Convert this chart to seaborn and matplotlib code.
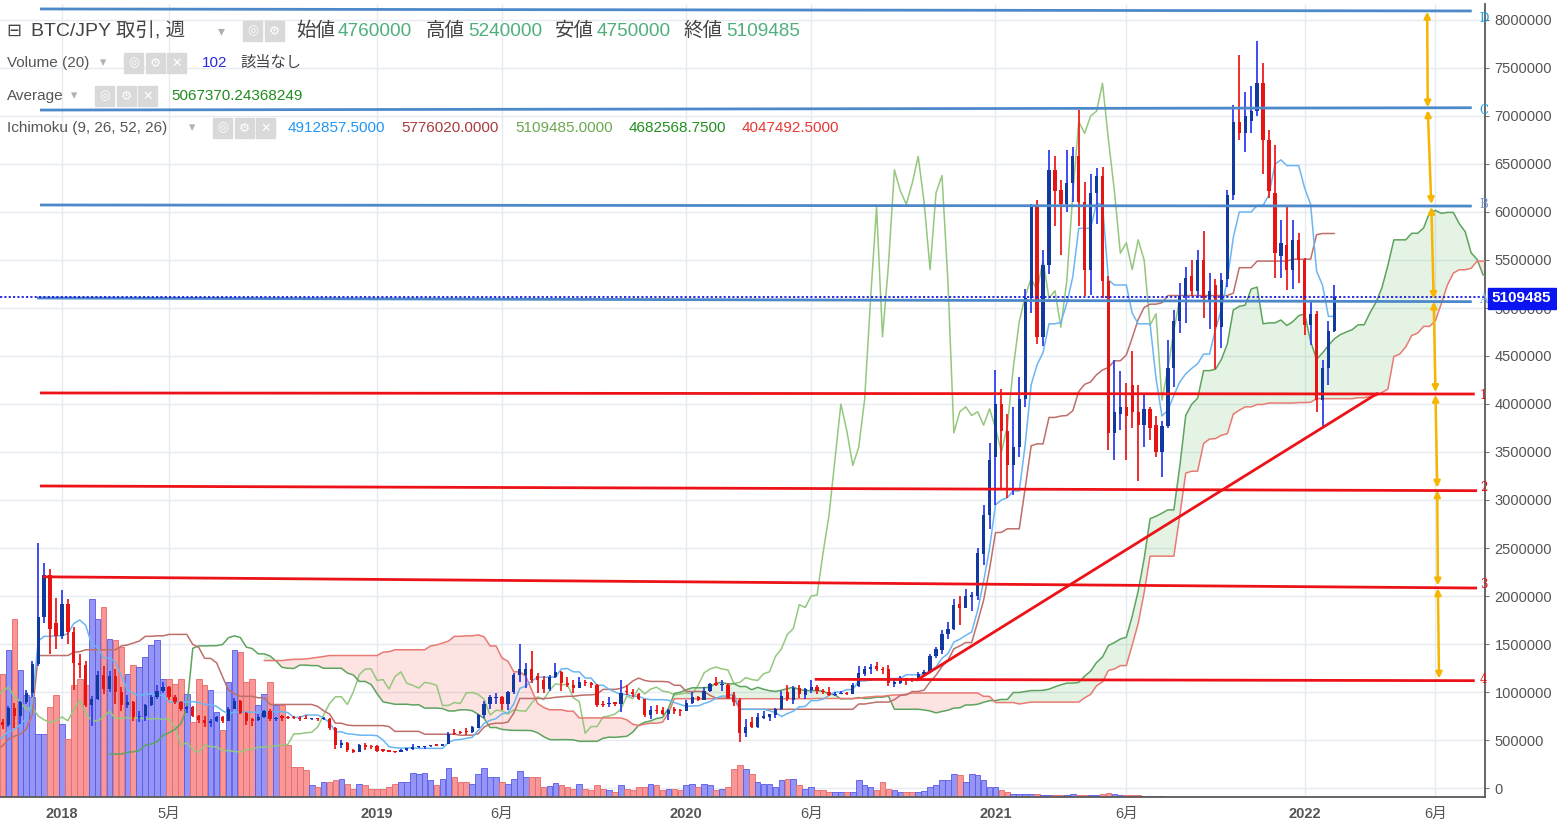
import numpy as np
import pandas as pd
import matplotlib
matplotlib.use("Agg")
import matplotlib.pyplot as plt
import seaborn as sns
from matplotlib.patches import Rectangle

sns.set_style("white")
plt.rcParams['font.family'] = ['Liberation Sans', 'Noto Sans CJK JP', 'DejaVu Sans']

# ---------------- data (weekly BTC/JPY, unit = 10,000 JPY) ----------------
UNIT = 1e4
# week index 0 = 2017-10-23 ... 224 = 2022-02-07
opens = [
 69,66,83,75,90,99,129,178,222,172,
 158,192,162,130,128,86,93,118,103,117,
 100,86,90,74,75,86,95,101,105,95,
 90,82,84,75,71,68,70,74,70,82,
 91,78,72,71,74,80,72,75,74,74,
 73,73,72,72.5,71.5,72,63,45,47,40,
 37,45,44,44,39.8,39,38,37.5,40,40.2,
 42.5,42.6,43.3,44.5,44.2,45.5,57,58,59,58,
 63,76,88,94,95,87,100,118,118,124,
 117,113,103,116,121,109,107,104,110,109,
 107,87,87,89,88,100,99.5,97.5,92.5,76,
 81.5,81,77,82,80.5,80,88.5,95,92,101.5,
 109,107,107,97,92,57,69,64,73,74,
 76,82,100,92,104,97,102,105,101.5,100,
 97,98,99,98,106,119,124,127,124,124,
 108,109,114,113,112,119,121,137,144,160,
 166,192,188,199,200,244,284,345,400,372,
 336,355,405,510,605,470,545,644,623,608,
 630,658,610,540,620,638,528,370,390,397,
 420,392,378,395,378,350,377,438,486,512,
 533,518,550,508,524,480,530,618,694,682,
 695,705,734,675,620,554,566,540,571,550,
 482,494,404,437,476]
highs = [
 72,85,89,91,102,132,255,234,228,198,
 206,197,168,140,132,96,122,127,122,124,
 105,97,91,80,88,97,107,110,106,97,
 91,85,85,76,75,72,75,75,84,94,
 92,79,73,77,81,82,74,76,75,75,
 75,76,73,73,74,73,64,50,48,41,
 46,47,45,45,40.5,39.5,38.5,40.5,40.8,46,
 43.5,43.8,44.8,45.3,46,58,61,59.5,62.5,64.5,
 77,91,97,99,95.5,101,120,150,130,143,
 120,117,118,130,122,116,112,116,112,110,
 108,91,95,90,112,107,103,99,93,85,
 86,84,82,84,82,92,100,96,105,109,
 116,113,109,100,94,72,74,78,80,77.5,
 83,101,107,106,107,104,112,107,103,105,
 100,101,99.5,109,127,127,129,131,126,128,
 112,117,115,115,121,123,140,147,165,173,
 197,200,207,204,250,295,359,435,416,390,
 397,428,520,608,612,560,665,658,633,665,
 668,706,631,640,646,647,533,446,434,422,
 455,420,410,397,387,382,467,498,526,543,
 550,560,580,536,530,536,623,711,764,725,
 731,777.7,755,685,670,592,605,592,578,552,
 507,497,446,486,524]
lows = [
 61,64,62,67,88,95,127,172,140,145,
 155,150,102,115,84,65,92,98,100,88,
 80,83,70,69,70,85,93,99,92,87,
 80,78,74,68,64,64,69,68,70,82,
 77,66,65,70,73,70,70,70,72,72,
 70,72,71,70,71,60,41,42,37,36,
 37,40,41,38,38,37.5,36.5,37,39,40,
 41.5,41,42.8,43.8,44,45.5,55.5,56.5,55.5,57.5,
 62.5,73,82.5,88,81,81,98,110,104,109,
 99,99,101,115,101,105,99,104,106,104,
 84,84,84,85,79,97,95,92,74,72,
 77,76,71,77.5,75.5,80,88,90.5,91.5,100,
 106,101,93,85,48,53,62,63,72,70,
 73,81,91,88,94,93,99,98,98,96,
 96,97.5,97,97.5,105,117,119,122,119,106,
 105,108,107,110,111,118,120,135,140,155,
 165,170,187,184,196,232,270,295,310,302,
 305,345,397,495,462,460,535,585,555,600,
 610,585,512,514,588,510,352,342,373,342,
 375,320,355,362,345,324,375,418,474,484,
 512,510,490,478,436,458,522,612,675,662,
 682,700,640,615,531,531,519,520,526,472,
 461,392,377.5,420,475]
closes = [
 66,83,75,90,99,129,178,222,166,158,
 192,162,130,128,86,93,118,103,117,100,
 86,90,74,75,86,95,101,105,95,90,
 82,84,75,71,68,70,74,70,82,91,
 78,70,70,74,80,72,73,73,73,73,
 72,72,72.5,71.5,72,63,45,47,40,37,
 45,43,43,39,39,38,37.5,40,40.2,42.5,
 42.6,43.3,44.2,44.2,45.5,56.5,56.5,57.5,58,63.5,
 76,88,95,95,87,100,118,124,124,112,
 113,103,116,121,109,107,104,110,109,107,
 86,86,89,88,99,99.5,97.5,92.5,76,81,
 80.5,77,81.5,80.5,80,88.5,95,92,101.5,108.5,
 107.5,108,94,90,57,64,64,74,75,77,
 82,96,93,104,98,103,105,101,100,97,
 98,99,98,107,120,124,126,124,123,109,
 110,115,113,112,119,121,137,145,160,166,
 191,188,200,201,245,284,342,400,372,336,
 355,405,510,605,470,545,644,622,608,630,
 658,610,540,620,638,528,370,392,397,388,
 392,378,395,375,350,377,438,486,512,531,
 518,550,510,518,480,529,618,694,682,700,
 705,734,675,622,557,568,540,571,550,482,
 494,404,437,476,510.9485]
# weekly volume (relative units)
volume = [
 123,147,178,127,102,100,63,63,90,102,
 73,58,112,118,112,198,178,190,158,157,
 150,123,132,130,140,152,157,118,118,113,
 118,103,75,118,112,107,85,67,115,147,
 145,115,118,92,103,115,92,92,52,30,
 30,27,12,10,15,15,17,18,13,8,
 13,12,8,8,8,10,13,15,15,24,
 23,24,17,12,18,29,20,15,15,13,
 23,29,20,20,15,13,18,26,20,20,
 20,10,11,14,12,10,8,13,8,7,
 12,8,7,5,12,8,7,10,10,13,
 12,7,8,8,7,12,13,10,13,12,
 7,8,10,28,32,28,23,15,13,13,
 10,17,18,18,12,8,10,7,7,5,
 5,5,5,5,17,12,10,7,15,8,
 7,5,5,5,5,6,10,12,17,17,
 23,22,15,23,22,17,10,10,7,5,
 3,3,3,3,3,2,2,2,2,2,
 3,2,2,2,2,3,4,3,2,2,
 2,2,1,1,1,1,0,0,0,0,
 0,0,0,0,0,0,0,0,0,0,
 0,0,0,0,0,0,0,0,0,0,
 0,0,0,0,0]
# weekly high / low of the 33 weeks before the visible range (Mar-Oct 2017),
# needed for the Ichimoku spans shown at the left of the chart
hist_high = [14.5,14,12,12.5,13.5,14,14,16,18.5,20,24,31,30,33,33,31,
             29,30,29,32,31,36,44,49,50,55,55,50,45,49,52,66,68]
hist_low = [11,11.5,10.5,10.5,12,13,13.2,13.8,15.5,17,19,22,25,28,24,27,
            26,28,21,21,28,29,36,44,43,48,45,33,41,43,47,51,61]

x_tick_weeks = [10, 28, 63, 84, 115, 136, 167, 189, 219, 241]
x_tick_labels = ["2018", "5月", "2019", "6月", "2020", "6月", "2021", "6月", "2022", "6月"]

# drawn levels (week index, price)
blue_levels = {"D": [(6.3, 8115000), (247.1, 8094000)],
               "C": [(6.3, 7062000), (247.1, 7086000)],
               "B": [(6.3, 6073000), (247.1, 6062000)],
               "A": [(5.8, 5104000), (247.1, 5066000)]}
red_levels = {"1": [(6.3, 4115000), (247.6, 4104000)],
              "2": [(6.3, 3146000), (248.0, 3097000)],
              "3": [(6.8, 2200000), (248.0, 2083000)],
              "4": [(136.6, 1132000), (247.6, 1118000)]}
trend_line = [(153.8, 1125000), (231.2, 4109000)]
arrow_weeks = [239.6, 239.7, 240.3, 240.7, 241.0, 241.3, 241.4, 241.6]
arrow_levels = [8100000, 7075000, 6068000, 5080000, 4110000, 3115000, 2095000, 1125000]
label_pos = {"D": 8020000, "C": 7060000, "B": 6080000, "A": 5090000,
             "1": 4090000, "2": 3135000, "3": 2115000, "4": 1135000}
label_col = {"D": "#1aa0e0", "C": "#22a8e0", "B": "#7896d4", "A": "#86aee6",
             "1": "#e01010", "2": "#e01010", "3": "#e01010", "4": "#e01010"}
last_close = 5109485

# ---------------- figure ----------------
FW, FH = 1557, 824
fig = plt.figure(figsize=(FW / 100, FH / 100), dpi=100)
ax = fig.add_axes([0, 27 / FH, 1485 / FW, 793 / FH])

W_PX, X0_PX, PPM = 5.946, 2.5, 96.0
xlim = (-X0_PX / W_PX, (1485 - X0_PX) / W_PX)
ylim = (-(797 - 788) / PPM * 1e6, (788 - 4) / PPM * 1e6)
ax.set_xlim(*xlim)
ax.set_ylim(*ylim)

weeks = np.arange(len(opens))
O = np.array(opens) * UNIT
Hh = np.array(highs) * UNIT
Ll = np.array(lows) * UNIT
C = np.array(closes) * UNIT
up = C >= O

# grid
for v in np.arange(0, 8000001, 500000):
    ax.axhline(v, color="#e6ebf1", lw=1.0, zorder=0)
for k in x_tick_weeks:
    ax.axvline(k, color="#e6ebf1", lw=1.0, zorder=0)

# volume bars
vol_scale = 1e6 / PPM
vol = np.array(volume, dtype=float)
ax.bar(weeks, vol * vol_scale, bottom=ylim[0], width=0.95,
       color=np.where(up, "#8a8af6", "#f78c8c"),
       edgecolor=np.where(up, "#5c5ce8", "#e86c6c"), linewidth=0.7, alpha=0.9, zorder=1)

# Ichimoku
ix = np.arange(-len(hist_high), len(opens))
Hs = pd.Series(np.array(hist_high + highs) * UNIT, index=ix)
Ls = pd.Series(np.array(hist_low + lows) * UNIT, index=ix)
tenkan = (Hs.rolling(9).max() + Ls.rolling(9).min()) / 2
kijun = (Hs.rolling(26).max() + Ls.rolling(26).min()) / 2
spanA = ((tenkan + kijun) / 2)
spanA.index = ix + 26
spanB = (Hs.rolling(52).max() + Ls.rolling(52).min()) / 2
spanB.index = ix + 26
chikou = pd.Series(C, index=weeks - 26)

cloud = pd.DataFrame({"a": spanA, "b": spanB}).dropna()
ax.fill_between(cloud.index, cloud["a"], cloud["b"], where=cloud["a"] >= cloud["b"],
                interpolate=True, color="#4caf50", alpha=0.15, lw=0, zorder=2)
ax.fill_between(cloud.index, cloud["a"], cloud["b"], where=cloud["a"] < cloud["b"],
                interpolate=True, color="#f44336", alpha=0.15, lw=0, zorder=2)

def draw_line(s, color, lw=1.1):
    s = s.dropna()
    s = s[(s.index >= -1)]
    d = pd.DataFrame({"week": s.index.values, "price": s.values})
    sns.lineplot(data=d, x="week", y="price", ax=ax, color=color, lw=lw,
                 legend=False, zorder=3)

draw_line(chikou, "#95c77e")
draw_line(spanA, "#5ea35e")
draw_line(spanB, "#e87a72")
draw_line(kijun, "#bd6f6a")
draw_line(tenkan, "#6bb6f2")

# candles
ax.vlines(weeks, Ll, Hh, colors=np.where(up, "#2f3ff0", "#f01c1c"), lw=1.3, zorder=4)
body_h = np.maximum(np.abs(C - O), 12000)
ax.bar(weeks, body_h, bottom=np.minimum(O, C), width=0.55,
       color=np.where(up, "#12399e", "#e81414"), linewidth=0, zorder=5)

# levels
for key, pts in blue_levels.items():
    (x1, y1), (x2, y2) = pts
    ax.plot([x1, x2], [y1, y2], color="#4d88c8", lw=2.0, zorder=6, solid_capstyle="butt")
for key, pts in red_levels.items():
    (x1, y1), (x2, y2) = pts
    ax.plot([x1, x2], [y1, y2], color="#ec1218", lw=2.0, zorder=6, solid_capstyle="butt")
(x1, y1), (x2, y2) = trend_line
ax.plot([x1, x2], [y1, y2], color="#ec1218", lw=2.0, zorder=6)
ax.axhline(last_close, color="#1a1ae6", lw=1.3, ls=(0, (1.2, 1.2)), zorder=6)

for i in range(len(arrow_levels) - 1):
    ax.annotate("", xy=(arrow_weeks[i + 1], arrow_levels[i + 1]),
                xytext=(arrow_weeks[i], arrow_levels[i]),
                arrowprops=dict(arrowstyle="<|-|>", color="#f7b500", lw=1.8,
                                mutation_scale=9, shrinkA=1, shrinkB=1), zorder=7)

for key, p in label_pos.items():
    ax.text(249.1, p, key, color=label_col[key], fontsize=8.5, ha="center",
            va="center", clip_on=False, zorder=8, family=["DejaVu Serif"])

# axes styling
for s in ["left", "top"]:
    ax.spines[s].set_visible(False)
for s in ["right", "bottom"]:
    ax.spines[s].set_color("#5a5a5a")
    ax.spines[s].set_linewidth(1.3)
ax.yaxis.tick_right()
ax.set_yticks(np.arange(0, 8000001, 500000))
ax.set_yticklabels([str(int(v)) for v in np.arange(0, 8000001, 500000)])
ax.tick_params(axis="y", length=3, color="#777777", labelsize=10.5, labelcolor="#555555", pad=4)
ax.set_xticks(x_tick_weeks)
ax.set_xticklabels(x_tick_labels)
ax.tick_params(axis="x", length=3, color="#777777", labelsize=10.5, labelcolor="#555555", pad=4)
for lab in ax.get_xticklabels():
    if lab.get_text().isdigit():
        lab.set_fontweight("bold")
ax.set_xlabel("")
ax.set_ylabel("")

# current price box
fig.patches.append(Rectangle((1488 / FW, 1 - 309 / FH), 68 / FW, 21 / FH,
                             transform=fig.transFigure, color="#0a14f0", zorder=10))
fig.text(1491 / FW, 1 - 298.5 / FH, f"{last_close}", color="white", fontsize=11,
         fontweight="bold", ha="left", va="center", zorder=11)

# header texts
def ftxt(x, y, s, size, color, weight="normal"):
    fig.text(x / FW, 1 - y / FH, s, fontsize=size, color=color, ha="left",
             va="center", fontweight=weight, zorder=12)

def icons(x0, y, n, size=19):
    for i in range(n):
        fig.patches.append(Rectangle(((x0 + i * (size + 2.5)) / FW, 1 - (y + size / 2) / FH),
                                     size / FW, size / FH, transform=fig.transFigure,
                                     color="#d9d9d9", zorder=11))
        glyph = ["◎", "⚙", "✕"][i] if n == 3 else ["◎", "⚙"][i]
        fig.text((x0 + i * (size + 2.5) + size / 2) / FW, 1 - y / FH, glyph, color="white",
                 fontsize=9, ha="center", va="center", zorder=12,
                 family=["DejaVu Sans"])

green_v = "#4fb07c"
ftxt(6, 31, "⊟", 13, "#444444")
ftxt(31, 31, "BTC/JPY 取引, 週", 14, "#444444")
ftxt(218, 31, "▾", 10, "#b0b0b0")
icons(243, 31, 2)
ftxt(296, 31, "始値", 14, "#444444")
ftxt(338, 31, "4760000", 13.7, green_v)
ftxt(426, 31, "高値", 14, "#444444")
ftxt(468, 31, "5240000", 13.7, green_v)
ftxt(555, 31, "安値", 14, "#444444")
ftxt(597, 31, "4750000", 13.7, green_v)
ftxt(684, 31, "終値", 14, "#444444")
ftxt(726, 31, "5109485", 13.7, green_v)

ftxt(7, 63, "Volume (20)", 11, "#555555")
ftxt(100, 63, "▾", 9, "#b0b0b0")
icons(124, 63, 3)
ftxt(202, 63, "102", 11, "#2a2ae0")
ftxt(240, 63, "該当なし", 11, "#444444")

ftxt(7, 96, "Average", 11, "#555555")
ftxt(71, 96, "▾", 9, "#b0b0b0")
icons(95, 96, 3)
ftxt(171, 96, "5067370.24368249", 11, "#1e8c1e")

ftxt(7, 128, "Ichimoku (9, 26, 52, 26)", 11, "#555555")
ftxt(189, 128, "▾", 9, "#b0b0b0")
icons(213, 128, 3)
ftxt(288, 128, "4912857.5000", 11, "#2196f3")
ftxt(401, 128, "5776020.0000", 11, "#a83c3c")
ftxt(515, 128, "5109485.0000", 11, "#6aa84f")
ftxt(629, 128, "4682568.7500", 11, "#1f8f1f")
ftxt(742, 128, "4047492.5000", 11, "#e53935")

fig.savefig("out.png", dpi=100)
